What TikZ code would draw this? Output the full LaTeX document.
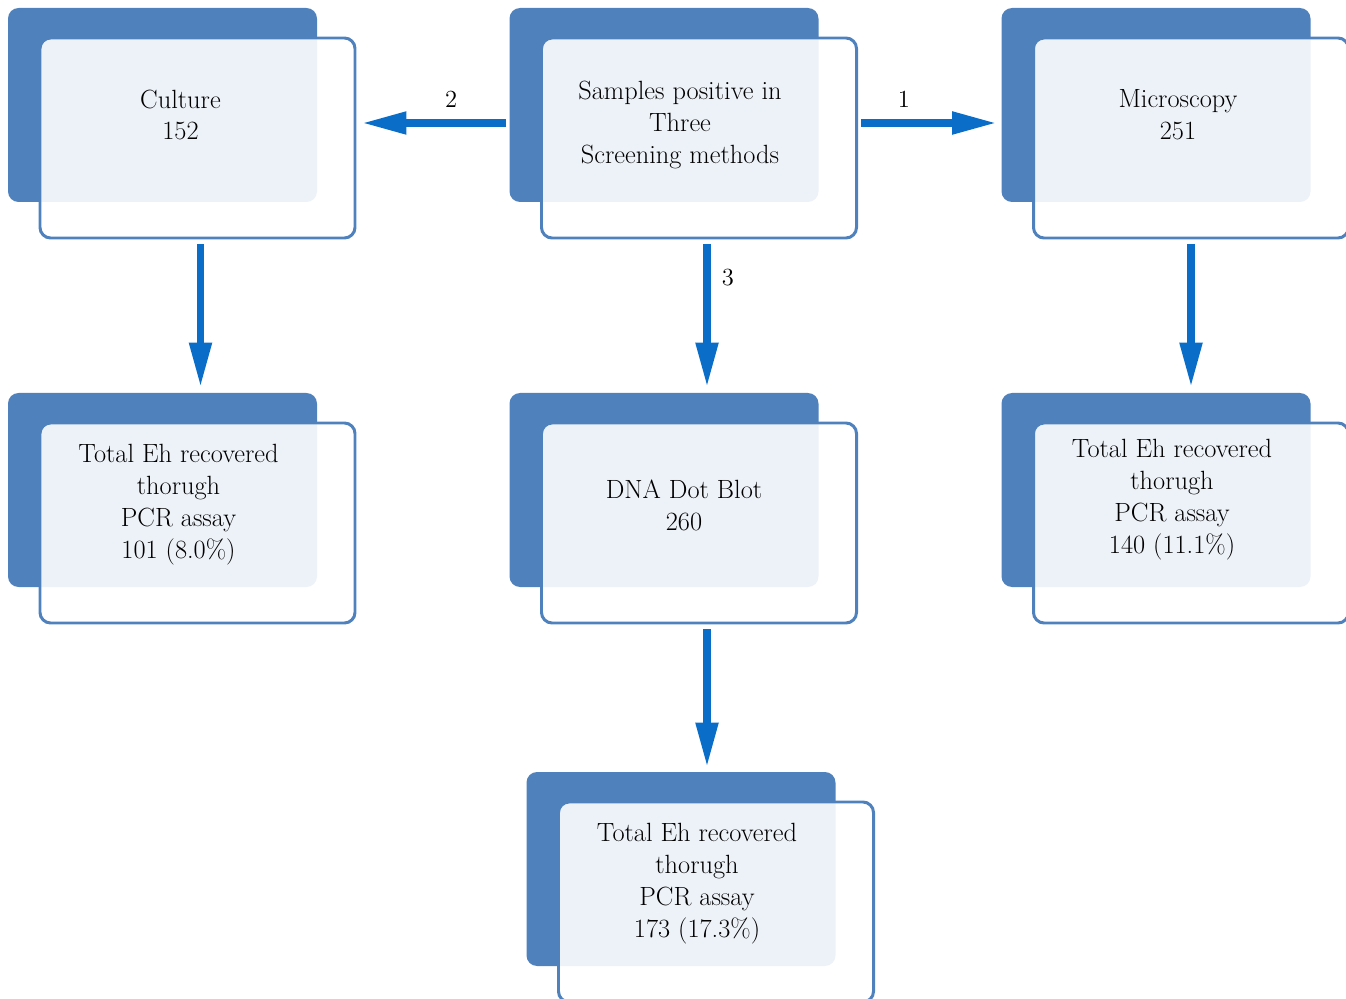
\documentclass[tikz,border=0pt]{standalone}
\usepackage{tikz}
\usetikzlibrary{arrows.meta,positioning,calc}
\usepackage{xcolor}
\definecolor{cardblue}{RGB}{79,129,189}
\definecolor{flowblue}{RGB}{10,110,200}

\begin{document}
\begin{tikzpicture}[
    backcard/.style={rectangle, fill=cardblue, rounded corners=6pt,
        minimum width=6.18cm, minimum height=3.88cm, inner sep=0pt},
    frontcard/.style={rectangle, draw=cardblue, fill=white, fill opacity=0.9,
        line width=1.7pt, rounded corners=6pt,
        minimum width=6.3cm, minimum height=4cm, inner sep=0pt},
    cardtext/.style={align=center, font=\fontsize{15}{18.2}\selectfont},
    flow/.style={draw=flowblue, line width=4.5pt,
        -{Triangle[length=0.9cm,width=0.42cm]}},
    flowlabel/.style={font=\fontsize{14}{17}\selectfont}
]
\useasboundingbox (0,0) rectangle (26.92,-19.98);

% top row
\node[backcard] (culture-bg) at (3.25,-2.1) {};
\node[frontcard] (culture) at ([xshift=0.7cm,yshift=-0.66cm]culture-bg.center) {};
\node[cardtext] (culture-txt) at ([xshift=0.36cm,yshift=-0.2cm]culture-bg.center) {Culture\\152};

\node[backcard] (samples-bg) at (13.28,-2.1) {};
\node[frontcard] (samples) at ([xshift=0.7cm,yshift=-0.66cm]samples-bg.center) {};
\node[cardtext] (samples-txt) at ([xshift=0.32cm,yshift=-0.4cm]samples-bg.center) {Samples positive in\\Three\\Screening methods};

\node[backcard] (micro-bg) at (23.12,-2.1) {};
\node[frontcard] (micro) at ([xshift=0.7cm,yshift=-0.66cm]micro-bg.center) {};
\node[cardtext] (micro-txt) at ([xshift=0.44cm,yshift=-0.2cm]micro-bg.center) {Microscopy\\251};

% second row
\node[backcard] (pcrcult-bg) at (3.25,-9.8) {};
\node[frontcard] (pcrcult) at ([xshift=0.7cm,yshift=-0.66cm]pcrcult-bg.center) {};
\node[cardtext] (pcrcult-txt) at ([xshift=0.32cm,yshift=-0.3cm]pcrcult-bg.center) {Total Eh recovered\\thorugh\\PCR assay\\101 (8.0\%)};

\node[backcard] (dotblot-bg) at (13.28,-9.8) {};
\node[frontcard] (dotblot) at ([xshift=0.7cm,yshift=-0.66cm]dotblot-bg.center) {};
\node[cardtext] (dotblot-txt) at ([xshift=0.4cm,yshift=-0.3cm]dotblot-bg.center) {DNA Dot Blot\\260};

\node[backcard] (pcrmicro-bg) at (23.12,-9.8) {};
\node[frontcard] (pcrmicro) at ([xshift=0.7cm,yshift=-0.66cm]pcrmicro-bg.center) {};
\node[cardtext] (pcrmicro-txt) at ([xshift=0.32cm,yshift=-0.2cm]pcrmicro-bg.center) {Total Eh recovered\\thorugh\\PCR assay\\140 (11.1\%)};

% bottom
\node[backcard] (pcrdot-bg) at (13.62,-17.38) {};
\node[frontcard] (pcrdot) at ([xshift=0.7cm,yshift=-0.66cm]pcrdot-bg.center) {};
\node[cardtext] (pcrdot-txt) at ([xshift=0.32cm,yshift=-0.3cm]pcrdot-bg.center) {Total Eh recovered\\thorugh\\PCR assay\\173 (17.3\%)};

% arrows
\draw[flow, shorten <=0.06cm, shorten >=0.1cm] ([yshift=-0.36cm]samples-bg.west) -- node[flowlabel, above=0.12cm, pos=0.38] {2} ([yshift=-0.36cm]samples-bg.west -| culture.east);
\draw[flow, shorten <=0.06cm, shorten >=0.08cm] ([yshift=-0.36cm]samples-bg.west -| samples.east) -- node[flowlabel, above=0.12cm, pos=0.32] {1} ([yshift=-0.36cm]samples-bg.west -| micro-bg.west);
\draw[flow, shorten <=0.1cm, shorten >=0.1cm] ([xshift=0.06cm]culture.south) -- ([xshift=0.06cm]culture.south |- pcrcult-bg.north);
\draw[flow, shorten <=0.1cm, shorten >=0.1cm] ([xshift=0.16cm]samples.south) -- node[flowlabel, right=0.1cm, pos=0.25] {3} ([xshift=0.16cm]samples.south |- dotblot-bg.north);
\draw[flow, shorten <=0.1cm, shorten >=0.1cm] (micro.south) -- (micro.south |- pcrmicro-bg.north);
\draw[flow, shorten <=0.1cm, shorten >=0.08cm] ([xshift=0.16cm]dotblot.south) -- ([xshift=0.16cm]dotblot.south |- pcrdot-bg.north);
\end{tikzpicture}
\end{document}
